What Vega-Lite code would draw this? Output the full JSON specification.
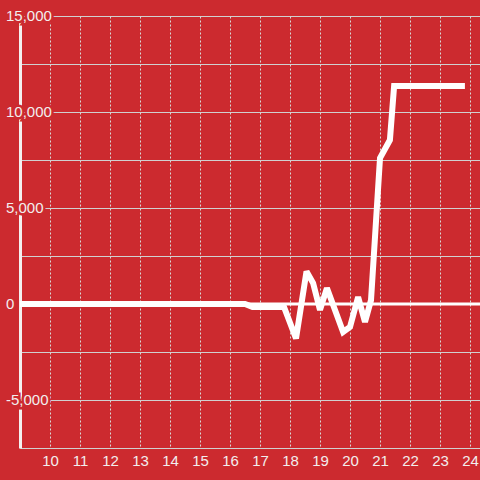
{
  "$schema": "https://vega.github.io/schema/vega-lite/v6.json",
  "autosize": "none",
  "width": 460,
  "height": 432,
  "padding": {"left": 20, "top": 16, "right": 0, "bottom": 32},
  "background": "#cc2a2f",
  "config": {
    "view": {"stroke": null},
    "font": "Liberation Sans",
    "axisX": {
      "labelOverlap": false,
      "labelBound": false,
      "title": null,
      "ticks": false,
      "domain": true,
      "domainColor": "#d0d0d0",
      "domainWidth": 1,
      "grid": true,
      "gridColor": "#d8d8d8",
      "gridDash": [2, 2],
      "gridWidth": 1,
      "labelColor": "#f2eeee",
      "labelFontSize": 15,
      "labelPadding": 5,
      "labelFont": "Liberation Sans"
    },
    "axisY": {
      "labels": false,
      "ticks": false,
      "title": null,
      "domain": true,
      "domainColor": "#f4f0f0",
      "domainWidth": 3,
      "grid": true,
      "gridColor": "#d0d0d0",
      "gridWidth": 1
    }
  },
  "layer": [
    {
      "data": {"values": [{"v": 0}]},
      "mark": {"type": "rule", "color": "#ffffff", "strokeWidth": 3},
      "encoding": {
        "y": {
          "field": "v",
          "type": "quantitative",
          "scale": {"domain": [-7500, 15000], "nice": false, "zero": false},
          "axis": {"values": [-7500, -5000, -2500, 0, 2500, 5000, 7500, 10000, 12500, 15000]}
        }
      }
    },
    {
      "data": {
        "values": [
          {"hour": 9, "value": 0},
          {"hour": 16.5, "value": 0},
          {"hour": 16.75, "value": -150},
          {"hour": 17.8, "value": -150},
          {"hour": 18.2, "value": -1800},
          {"hour": 18.55, "value": 1700},
          {"hour": 18.77, "value": 1090},
          {"hour": 19.0, "value": -310},
          {"hour": 19.23, "value": 830},
          {"hour": 19.77, "value": -1460},
          {"hour": 20.0, "value": -1200},
          {"hour": 20.27, "value": 360},
          {"hour": 20.5, "value": -940},
          {"hour": 20.7, "value": 200},
          {"hour": 21.0, "value": 7600},
          {"hour": 21.33, "value": 8540},
          {"hour": 21.47, "value": 11350},
          {"hour": 23.83, "value": 11350}
        ]
      },
      "mark": {"type": "line", "color": "#ffffff", "strokeWidth": 6, "strokeJoin": "miter", "strokeMiterLimit": 2},
      "encoding": {
        "x": {
          "field": "hour",
          "type": "quantitative",
          "scale": {"domain": [9, 24.333], "nice": false, "zero": false},
          "axis": {"values": [10, 11, 12, 13, 14, 15, 16, 17, 18, 19, 20, 21, 22, 23, 24]}
        },
        "y": {
          "field": "value",
          "type": "quantitative",
          "axis": {"values": [-7500, -5000, -2500, 0, 2500, 5000, 7500, 10000, 12500, 15000]}
        }
      }
    },
    {
      "data": {
        "values": [
          {"v": 15000, "label": "15,000"},
          {"v": 10000, "label": "10,000"},
          {"v": 5000, "label": "5,000"},
          {"v": 0, "label": "0"},
          {"v": -5000, "label": "-5,000"}
        ]
      },
      "mark": {
        "type": "text",
        "align": "left",
        "baseline": "middle",
        "dx": -14,
        "fontSize": 15,
        "font": "Liberation Sans",
        "fill": "#cc2a2f",
        "stroke": "#cc2a2f",
        "strokeWidth": 5
      },
      "encoding": {
        "x": {
          "datum": 9,
          "type": "quantitative",
          "axis": {"values": [10, 11, 12, 13, 14, 15, 16, 17, 18, 19, 20, 21, 22, 23, 24]}
        },
        "y": {
          "field": "v",
          "type": "quantitative",
          "axis": {"values": [-7500, -5000, -2500, 0, 2500, 5000, 7500, 10000, 12500, 15000]}
        },
        "text": {"field": "label"}
      }
    },
    {
      "data": {
        "values": [
          {"v": 15000, "label": "15,000"},
          {"v": 10000, "label": "10,000"},
          {"v": 5000, "label": "5,000"},
          {"v": 0, "label": "0"},
          {"v": -5000, "label": "-5,000"}
        ]
      },
      "mark": {
        "type": "text",
        "align": "left",
        "baseline": "middle",
        "dx": -14,
        "fontSize": 15,
        "font": "Liberation Sans",
        "fill": "#f2eeee"
      },
      "encoding": {
        "x": {
          "datum": 9,
          "type": "quantitative",
          "axis": {"values": [10, 11, 12, 13, 14, 15, 16, 17, 18, 19, 20, 21, 22, 23, 24]}
        },
        "y": {
          "field": "v",
          "type": "quantitative",
          "axis": {"values": [-7500, -5000, -2500, 0, 2500, 5000, 7500, 10000, 12500, 15000]}
        },
        "text": {"field": "label"}
      }
    }
  ]
}
